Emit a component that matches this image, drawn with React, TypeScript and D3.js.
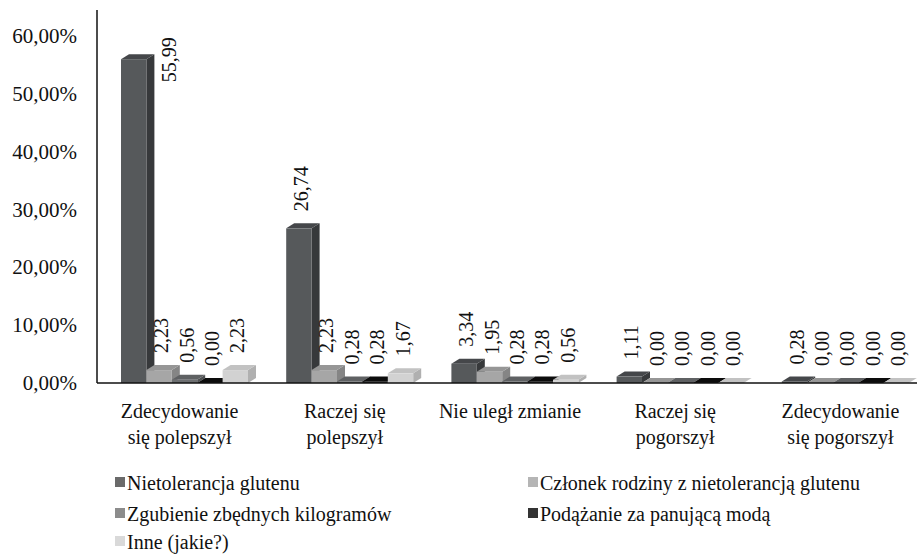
import * as d3 from "d3";

const categories = [
  ["Zdecydowanie", "się polepszył"],
  ["Raczej się", "polepszył"],
  ["Nie uległ zmianie"],
  ["Raczej się", "pogorszył"],
  ["Zdecydowanie", "się pogorszył"],
];
const seriesNames = [
  "Nietolerancja glutenu",
  "Członek rodziny z nietolerancją glutenu",
  "Zgubienie zbędnych kilogramów",
  "Podążanie za panującą modą",
  "Inne (jakie?)",
];
const nietolerancja = [55.99, 26.74, 3.34, 1.11, 0.28];
const czlonek = [2.23, 2.23, 1.95, 0.0, 0.0];
const zgubienie = [0.56, 0.28, 0.28, 0.0, 0.0];
const podazanie = [0.0, 0.28, 0.28, 0.0, 0.0];
const inne = [2.23, 1.67, 0.56, 0.0, 0.0];
const yTicks = [0, 10, 20, 30, 40, 50, 60];

const values = [nietolerancja, czlonek, zgubienie, podazanie, inne];
// front, side, top, legend
const colors = [
  ["#56595b", "#37393b", "#45474a", "#6a6a6a"],
  ["#a6a6a6", "#858585", "#969696", "#b5b5b5"],
  ["#6d6f71", "#4f5153", "#5f6163", "#8c8c8c"],
  ["#141414", "#050505", "#0c0c0c", "#333333"],
  ["#d2d2d2", "#b0b0b0", "#c2c2c2", "#d9d9d9"],
];

const W = 917;
const H = 555;
const DX = 8;
const DY = 5;
const SERIF = "Liberation Serif";

export default function App() {
  const y = d3.scaleLinear().domain([0, 60]).range([383, 36]);
  const x = d3
    .scaleBand<number>()
    .domain(categories.map((_, i) => i))
    .range([97, 923]);
  const inner = d3
    .scaleBand<number>()
    .domain(seriesNames.map((_, i) => i))
    .range([0, 127]);
  const bw = inner.bandwidth();

  const bars = [];
  const labels = [];
  categories.forEach((_, ci) => {
    values.forEach((vals, si) => {
      const v = vals[ci];
      const x0 = (x(ci) ?? 0) + 24 + (inner(si) ?? 0);
      const x1 = x0 + bw;
      const yt = y(v);
      const yb = y(0);
      const [cf, cs, ct] = colors[si];
      bars.push(
        <g key={`b${ci}-${si}`}>
          <polygon
            points={`${x1},${yb} ${x1 + DX},${yb - DY} ${x1 + DX},${yt - DY} ${x1},${yt}`}
            fill={cs}
          />
          <polygon
            points={`${x0},${yt} ${x0 + DX},${yt - DY} ${x1 + DX},${yt - DY} ${x1},${yt}`}
            fill={ct}
          />
          <rect x={x0} y={yt} width={bw} height={yb - yt} fill={cf} />
        </g>
      );
      const txt = v.toFixed(2).replace(".", ",");
      let lx = x0 + bw / 2 + 2;
      let ly = yt - 17;
      if (ly - 50 < 20) {
        lx = x1 + DX + 15;
        ly = yt + 23;
      }
      labels.push(
        <text
          key={`l${ci}-${si}`}
          transform={`translate(${lx + 7},${ly})rotate(-90)`}
          fontSize={20}
          fill="#111"
          fontFamily={SERIF}
          style={{ fontFamily: SERIF }}
        >
          {txt}
        </text>
      );
    });
  });

  const legendPos = [
    [115, 490],
    [528, 490],
    [115, 521],
    [528, 521],
    [115, 549],
  ];

  return (
    <div style={{ position: "absolute", left: 0, top: 0, fontFamily: SERIF }}>
      <svg width={W} height={H} fontFamily={SERIF}>
        <style>{`text, tspan { font-family: "Liberation Serif", "Times New Roman", serif !important; }`}</style>
        {yTicks.map((t) => (
          <text
            key={t}
            x={77}
            y={y(t) + 7}
            textAnchor="end"
            fontSize={21}
            fill="#111"
            fontFamily={SERIF}
            style={{ fontFamily: SERIF }}
          >
            {t.toFixed(2).replace(".", ",") + "%"}
          </text>
        ))}
        {bars}
        <line x1={97} x2={97} y1={10} y2={383} stroke="#111" strokeWidth={1.5} />
        <line x1={97} x2={917} y1={383} y2={383} stroke="#111" strokeWidth={1.5} />
        {labels}
        {categories.map((lines, ci) =>
          lines.map((l, li) => (
            <text
              key={`c${ci}-${li}`}
              x={(x(ci) ?? 0) + x.bandwidth() / 2}
              y={418 + li * 26}
              textAnchor="middle"
              fontSize={20}
              fill="#111"
              fontFamily={SERIF}
              style={{ fontFamily: SERIF }}
            >
              {l}
            </text>
          ))
        )}
        {seriesNames.map((name, si) => {
          const [lx, ly] = legendPos[si];
          return (
            <g key={name}>
              <rect x={lx} y={ly - 13} width={10} height={10} fill={colors[si][3]} />
              <text
                x={lx + 12}
                y={ly}
                fontSize={20}
                fill="#111"
                fontFamily={SERIF}
                style={{ fontFamily: SERIF }}
              >
                {name}
              </text>
            </g>
          );
        })}
      </svg>
    </div>
  );
}
